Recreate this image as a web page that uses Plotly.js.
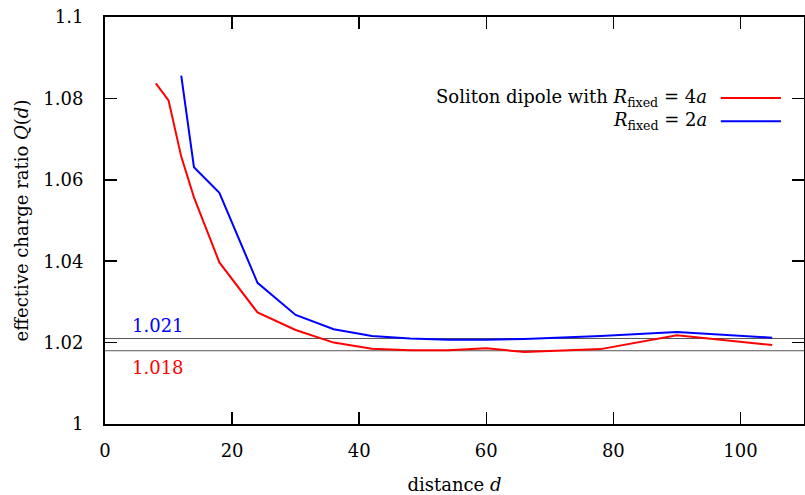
<!DOCTYPE html>
<html>
<head>
<meta charset="utf-8">
<script src="https://cdn.plot.ly/plotly-3.0.1.min.js"></script>
<style>html,body{margin:0;padding:0;background:#fff;}#chart{width:805px;height:495px;}</style>
</head>
<body>
<div id="chart"></div>
<script>
// distances and charge ratios
const dRed  = [8, 10, 12, 14, 18, 24, 30, 36, 42, 48, 54, 60, 66, 72, 78, 90, 105];
const qRed  = [1.0837, 1.0795, 1.0657, 1.0557, 1.0397, 1.0274, 1.0231, 1.0200, 1.0185, 1.0181, 1.0181, 1.0186, 1.0177, 1.0180, 1.0184, 1.0218, 1.0194];
const dBlue = [12, 14, 18, 24, 30, 36, 42, 48, 54, 60, 66, 72, 78, 90, 105];
const qBlue = [1.0856, 1.0631, 1.0568, 1.0347, 1.0268, 1.0233, 1.0216, 1.0210, 1.0207, 1.0207, 1.0209, 1.0212, 1.0216, 1.0226, 1.0212];
const refLevels = [1.021, 1.018];
const refLabels = ["1.021", "1.018"];
const refLabelY = [1.0241, 1.0140];
const xRange = [0, 110];
const yRange = [1, 1.1];
const xTicks = [0, 20, 40, 60, 80, 100];
const yTicks = [1, 1.02, 1.04, 1.06, 1.08, 1.1];
const yTickText = ["1", "1.02", "1.04", "1.06", "1.08", "1.1"];
const legendNames = ["Soliton dipole with <i>R</i><sub>fixed</sub> = 4<i>a</i>", "<i>R</i><sub>fixed</sub> = 2<i>a</i>"];

const FONT = "DejaVu Serif";
const colors = ["#ff0000", "#0000ff"];
const FS = 18;

const traces = [];
refLevels.forEach(v => {
  traces.push({x: xRange, y: [v, v], mode: "lines", line: {color: "#555555", width: 1}, showlegend: false, hoverinfo: "skip"});
});
traces.push({x: dRed, y: qRed, mode: "lines", line: {color: colors[0], width: 2}, showlegend: false});
traces.push({x: dBlue, y: qBlue, mode: "lines", line: {color: colors[1], width: 2}, showlegend: false});

const annotations = [
  {x: 4, y: refLabelY[0], xref: "x", yref: "y", text: refLabels[0], showarrow: false, xanchor: "left", yanchor: "middle", font: {family: FONT, size: FS, color: colors[1]}},
  {x: 4, y: refLabelY[1], xref: "x", yref: "y", text: refLabels[1], showarrow: false, xanchor: "left", yanchor: "middle", font: {family: FONT, size: FS, color: colors[0]}},
  {x: 0.864, y: 0.801, xref: "paper", yref: "paper", text: legendNames[0], showarrow: false, xanchor: "right", yanchor: "middle", font: {family: FONT, size: FS, color: "#000"}},
  {x: 0.864, y: 0.744, xref: "paper", yref: "paper", text: legendNames[1], showarrow: false, xanchor: "right", yanchor: "middle", font: {family: FONT, size: FS, color: "#000"}}
];
const shapes = [
  {type: "line", xref: "paper", yref: "paper", x0: 0.881, x1: 0.967, y0: 0.801, y1: 0.801, line: {color: colors[0], width: 2}},
  {type: "line", xref: "paper", yref: "paper", x0: 0.881, x1: 0.967, y0: 0.744, y1: 0.744, line: {color: colors[1], width: 2}}
];

const layout = {
  width: 805, height: 495,
  margin: {l: 105, r: 1, t: 17, b: 71},
  paper_bgcolor: "#fff", plot_bgcolor: "#fff",
  font: {family: FONT, size: FS, color: "#000"},
  showlegend: false,
  xaxis: {
    range: xRange, tickvals: xTicks, ticks: "inside", ticklen: 12, tickwidth: 1.5, tickcolor: "#000",
    showline: true, linecolor: "#000", linewidth: 2, mirror: "ticks", showgrid: false, zeroline: false,
    ticklabelstandoff: 9, tickfont: {family: FONT, size: FS},
    title: {text: "distance <i>d</i>", font: {family: FONT, size: FS}, standoff: 20}
  },
  yaxis: {
    range: yRange, tickvals: yTicks, ticktext: yTickText, ticks: "inside", ticklen: 12, tickwidth: 1.5, tickcolor: "#000",
    showline: true, linecolor: "#000", linewidth: 2, mirror: "ticks", showgrid: false, zeroline: false,
    ticklabelstandoff: 16, tickfont: {family: FONT, size: FS},
    title: {text: "effective charge ratio <i>Q</i>(<i>d</i>)", font: {family: FONT, size: FS}, standoff: 10}
  },
  annotations: annotations,
  shapes: shapes
};

Plotly.newPlot("chart", traces, layout, {staticPlot: true, displayModeBar: false});
</script>
</body>
</html>
